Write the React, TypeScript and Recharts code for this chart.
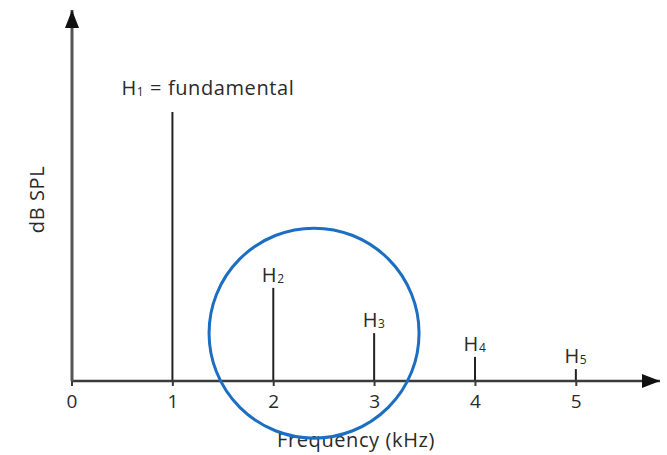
import React from 'react';
import { ComposedChart, Bar, XAxis, YAxis, LabelList, ReferenceDot } from 'recharts';

const frequencies = [1, 2, 3, 4, 5];
const levels = [72.5, 25.1, 12.9, 6.5, 3.2];
const harmonicNumbers = ['1', '2', '3', '4', '5'];
const notes = [' = fundamental', '', '', '', ''];
const xTicks = [0, 1, 2, 3, 4, 5];
const xMax = 5.83;
const yMax = 100;
const circleCenter = { x: 2.4, y: 12.9 };

const data = frequencies.map((f, i) => ({
  freq: f,
  level: levels[i],
  n: harmonicNumbers[i],
  note: notes[i],
}));

const FONT = '"Open Sans", "DejaVu Sans", sans-serif';
const TEXT = '#2a2a2a';
const AXIS = '#3a3a3a';
const LABEL_SIZE = 20;
const SPACING = 0.6;

const HarmonicLabel = (props: any) => {
  const { x, y, width, index } = props;
  const d = data[index];
  const cx = x + width / 2;
  const hasNote = d.note.length > 0;
  const tx = hasNote ? cx - 51 : cx;
  const ty = hasNote ? y - 17 : y - 6;
  return (
    <text
      x={tx}
      y={ty}
      textAnchor={hasNote ? 'start' : 'middle'}
      fontFamily={FONT}
      fontSize={LABEL_SIZE}
      letterSpacing={SPACING}
      fill={TEXT}
    >
      H
      <tspan fontSize={12} dy={1}>{d.n}</tspan>
      {hasNote ? <tspan dy={-1} fontSize={LABEL_SIZE}>{d.note}</tspan> : null}
    </text>
  );
};

const UpArrow = (props: any) => {
  const { cx, cy } = props;
  return <path d={`M${cx},${cy} L${cx - 7},${cy + 18} L${cx + 7},${cy + 18} Z`} fill="#111" />;
};

const RightArrow = (props: any) => {
  const { cx, cy } = props;
  return <path d={`M${cx},${cy} L${cx - 18},${cy - 7} L${cx - 18},${cy + 7} Z`} fill="#111" />;
};

export default function App() {
  return (
    <div style={{ position: 'absolute', left: 0, top: 0, width: 667, height: 455, background: '#fff' }}>
      <ComposedChart
        width={667}
        height={455}
        data={data}
        margin={{ top: 10, right: 7, bottom: 0, left: 8 }}
      >
        <XAxis
          type="number"
          dataKey="freq"
          domain={[0, xMax]}
          ticks={xTicks}
          allowDataOverflow
          height={74}
          tickSize={5}
          tickMargin={9}
          axisLine={{ stroke: AXIS, strokeWidth: 2.5 }}
          tickLine={{ stroke: AXIS, strokeWidth: 2 }}
          tick={{ fill: TEXT, fontSize: 19, fontFamily: FONT }}
          label={{
            content: (p: any) => {
              const vb = p.viewBox;
              return (
                <text
                  x={vb.x + vb.width / 2 - 10}
                  y={vb.y + 66}
                  textAnchor="middle"
                  fontFamily={FONT}
                  fontSize={LABEL_SIZE}
                  letterSpacing={SPACING}
                  fill={TEXT}
                >
                  Frequency (kHz)
                </text>
              );
            },
          }}
        />
        <YAxis
          type="number"
          domain={[0, yMax]}
          width={64}
          tick={false}
          tickLine={false}
          axisLine={{ stroke: '#555', strokeWidth: 3 }}
          label={{
            content: (p: any) => {
              const vb = p.viewBox;
              const lx = vb.x + vb.width - 28;
              const ly = vb.y + vb.height / 2 + 4;
              return (
                <text
                  x={lx}
                  y={ly}
                  transform={`rotate(-90, ${lx}, ${ly})`}
                  textAnchor="middle"
                  fontFamily={FONT}
                  fontSize={LABEL_SIZE}
                  letterSpacing={SPACING}
                  fill={TEXT}
                >
                  dB SPL
                </text>
              );
            },
          }}
        />
        <Bar dataKey="level" barSize={2} fill="#222" isAnimationActive={false}>
          <LabelList dataKey="level" content={HarmonicLabel} />
        </Bar>
        <ReferenceDot
          x={circleCenter.x}
          y={circleCenter.y}
          r={105}
          fill="none"
          stroke="#1b6ec2"
          strokeWidth={3}
          ifOverflow="visible"
        />
        <ReferenceDot x={0} y={yMax} r={1} ifOverflow="visible" shape={UpArrow} />
        <ReferenceDot x={xMax} y={0} r={1} ifOverflow="visible" shape={RightArrow} />
      </ComposedChart>
    </div>
  );
}
